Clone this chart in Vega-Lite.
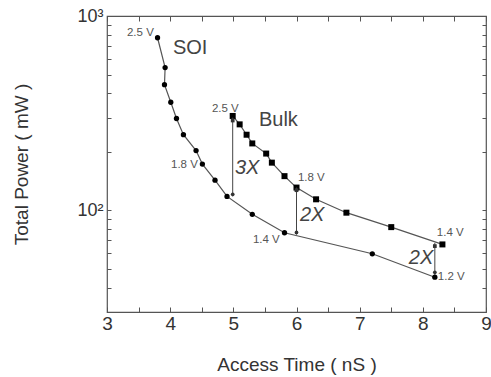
{
  "$schema": "https://vega.github.io/schema/vega-lite/v6.json",
  "width": 379,
  "height": 296,
  "autosize": {"type": "none"},
  "padding": {"left": 107, "top": 16, "right": 5, "bottom": 65},
  "background": "white",
  "config": {
    "view": {"stroke": "#555", "strokeWidth": 1.2},
    "font": "Liberation Sans",
    "axis": {"grid": false, "domain": false, "tickColor": "#555", "labelColor": "#333", "titleColor": "#333", "labelFont": "Liberation Sans", "titleFont": "Liberation Sans", "titleFontWeight": "normal"}
  },
  "datasets": {
    "curves": [
      {"series": "SOI", "i": 1, "t": 3.80, "p": 773},
      {"series": "SOI", "i": 2, "t": 3.92, "p": 543},
      {"series": "SOI", "i": 3, "t": 3.91, "p": 443},
      {"series": "SOI", "i": 4, "t": 4.01, "p": 360},
      {"series": "SOI", "i": 5, "t": 4.10, "p": 297},
      {"series": "SOI", "i": 6, "t": 4.21, "p": 245},
      {"series": "SOI", "i": 7, "t": 4.41, "p": 203},
      {"series": "SOI", "i": 8, "t": 4.51, "p": 173},
      {"series": "SOI", "i": 9, "t": 4.71, "p": 143},
      {"series": "SOI", "i": 10, "t": 4.90, "p": 118},
      {"series": "SOI", "i": 11, "t": 5.30, "p": 95.4},
      {"series": "SOI", "i": 12, "t": 5.81, "p": 76.7},
      {"series": "SOI", "i": 13, "t": 7.20, "p": 59.8},
      {"series": "SOI", "i": 14, "t": 8.19, "p": 45.3},
      {"series": "Bulk", "i": 1, "t": 4.99, "p": 306},
      {"series": "Bulk", "i": 2, "t": 5.10, "p": 277},
      {"series": "Bulk", "i": 3, "t": 5.21, "p": 245},
      {"series": "Bulk", "i": 4, "t": 5.30, "p": 221},
      {"series": "Bulk", "i": 5, "t": 5.52, "p": 196},
      {"series": "Bulk", "i": 6, "t": 5.61, "p": 176},
      {"series": "Bulk", "i": 7, "t": 5.81, "p": 150},
      {"series": "Bulk", "i": 8, "t": 6.00, "p": 131},
      {"series": "Bulk", "i": 9, "t": 6.31, "p": 114},
      {"series": "Bulk", "i": 10, "t": 6.79, "p": 97.3},
      {"series": "Bulk", "i": 11, "t": 7.50, "p": 82.0},
      {"series": "Bulk", "i": 12, "t": 8.31, "p": 66.8}
    ],
    "arrows": [
      {"t": 4.99, "top": 300, "bottom": 118},
      {"t": 6.00, "top": 131, "bottom": 75},
      {"t": 8.19, "top": 68, "bottom": 46.5}
    ],
    "heads": [
      {"t": 4.99, "p": 121, "dir": "down"},
      {"t": 6.00, "p": 77, "dir": "down"},
      {"t": 8.19, "p": 48, "dir": "down"},
      {"t": 4.99, "p": 290, "dir": "up"},
      {"t": 6.00, "p": 127, "dir": "up"},
      {"t": 8.19, "p": 65.5, "dir": "up"}
    ],
    "vlabels": [
      {"t": 3.316, "p": 817, "txt": "2.5 V"},
      {"t": 4.661, "p": 332, "txt": "2.5 V"},
      {"t": 4.013, "p": 171, "txt": "1.8 V"},
      {"t": 6.022, "p": 146, "txt": "1.8 V"},
      {"t": 5.310, "p": 70.0, "txt": "1.4 V"},
      {"t": 8.222, "p": 76.1, "txt": "1.4 V"},
      {"t": 8.237, "p": 45.2, "txt": "1.2 V"}
    ],
    "slabels": [
      {"t": 4.044, "p": 684, "txt": "SOI"},
      {"t": 5.405, "p": 291, "txt": "Bulk"}
    ],
    "flabels": [
      {"t": 5.025, "p": 165, "txt": "3X"},
      {"t": 6.054, "p": 94.2, "txt": "2X"},
      {"t": 7.778, "p": 56.6, "txt": "2X"}
    ]
  },
  "layer": [
    {
      "data": {"name": "curves"},
      "mark": {"type": "line", "color": "#555", "strokeWidth": 1.2},
      "encoding": {
        "x": {"field": "t", "type": "quantitative", "scale": {"domain": [3, 9], "nice": false, "zero": false},
          "axis": {"orient": "bottom", "title": "Access Time ( nS )", "values": [3, 3.5, 4, 4.5, 5, 5.5, 6, 6.5, 7, 7.5, 8, 8.5, 9], "labelExpr": "datum.value % 1 == 0 ? format(datum.value, 'd') : ''", "tickSize": -5, "labelPadding": 7, "labelFontSize": 19, "titleFontSize": 19, "titlePadding": 22, "labelFlush": false}},
        "y": {"field": "p", "type": "quantitative", "scale": {"type": "log", "domain": [30, 1000], "nice": false},
          "axis": {"orient": "left", "title": "Total Power ( mW )", "values": [40, 50, 60, 70, 80, 90, 100, 200, 300, 400, 500, 600, 700, 800, 900, 1000], "labelExpr": "datum.value == 1000 ? '10³' : datum.value == 100 ? '10²' : ''", "tickSize": -4, "labelPadding": 8, "labelFontSize": 18, "titleFontSize": 19, "titlePadding": 45, "labelFlush": false}},
        "detail": {"field": "series"},
        "order": {"field": "i"}
      }
    },
    {
      "data": {"name": "curves"},
      "mark": {"type": "point", "filled": true, "color": "black", "opacity": 1},
      "encoding": {
        "x": {"field": "t", "type": "quantitative", "axis": null},
        "y": {"field": "p", "type": "quantitative", "axis": null},
        "shape": {"field": "series", "type": "nominal", "scale": {"domain": ["SOI", "Bulk"], "range": ["circle", "square"]}, "legend": null},
        "size": {"field": "series", "type": "nominal", "scale": {"domain": ["SOI", "Bulk"], "range": [28, 36]}, "legend": null}
      }
    },
    {
      "data": {"name": "arrows"},
      "mark": {"type": "rule", "color": "#444", "strokeWidth": 1},
      "encoding": {
        "x": {"field": "t", "type": "quantitative", "axis": {"orient": "top", "title": null, "labels": false, "values": [3, 3.5, 4, 4.5, 5, 5.5, 6, 6.5, 7, 7.5, 8, 8.5, 9], "tickSize": -5}},
        "y": {"field": "top", "type": "quantitative", "axis": {"orient": "right", "title": null, "labels": false, "values": [40, 50, 60, 70, 80, 90, 100, 200, 300, 400, 500, 600, 700, 800, 900, 1000], "tickSize": -4}},
        "y2": {"field": "bottom"}
      }
    },
    {
      "data": {"name": "heads"},
      "mark": {"type": "point", "filled": true, "color": "#333", "opacity": 1, "size": 14},
      "encoding": {
        "x": {"field": "t", "type": "quantitative", "axis": null},
        "y": {"field": "p", "type": "quantitative", "axis": null},
        "shape": {"field": "dir", "type": "nominal", "scale": {"domain": ["down", "up"], "range": ["triangle-down", "triangle-up"]}, "legend": null}
      }
    },
    {
      "data": {"name": "vlabels"},
      "mark": {"type": "text", "align": "left", "baseline": "middle", "fontSize": 11.5, "color": "#555"},
      "encoding": {
        "x": {"field": "t", "type": "quantitative", "axis": null},
        "y": {"field": "p", "type": "quantitative", "axis": null},
        "text": {"field": "txt"}
      }
    },
    {
      "data": {"name": "slabels"},
      "mark": {"type": "text", "align": "left", "baseline": "middle", "fontSize": 20, "color": "#444"},
      "encoding": {
        "x": {"field": "t", "type": "quantitative", "axis": null},
        "y": {"field": "p", "type": "quantitative", "axis": null},
        "text": {"field": "txt"}
      }
    },
    {
      "data": {"name": "flabels"},
      "mark": {"type": "text", "align": "left", "baseline": "middle", "fontSize": 20, "fontStyle": "italic", "color": "#444"},
      "encoding": {
        "x": {"field": "t", "type": "quantitative", "axis": null},
        "y": {"field": "p", "type": "quantitative", "axis": null},
        "text": {"field": "txt"}
      }
    }
  ],
  "resolve": {"axis": {"x": "independent", "y": "independent"}}
}
